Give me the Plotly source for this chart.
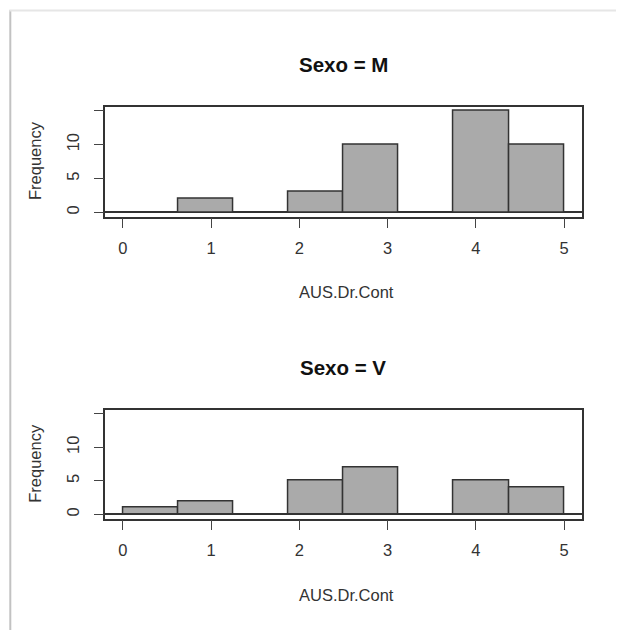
import plotly.graph_objects as go

# ---- data ----
breaks = [0, 0.625, 1.25, 1.875, 2.5, 3.125, 3.75, 4.375, 5]
counts_M = [0, 2, 0, 3, 10, 0, 15, 10]
counts_V = [1, 2, 0, 5, 7, 0, 5, 4]
panel_titles = ["Sexo = M", "Sexo = V"]
x_label = "AUS.Dr.Cont"
y_label = "Frequency"
x_ticks = [0, 1, 2, 3, 4, 5]
y_ticks = [0, 5, 10, 15]
y_ticktext = ["0", "5", "10", ""]

OFF = 8  # page body margin
W, H = 624 - OFF, 630 - OFF
FONT = "Liberation Sans, Arial, sans-serif"
mids = [(a + b) / 2 for a, b in zip(breaks[:-1], breaks[1:])]
widths = [b - a for a, b in zip(breaks[:-1], breaks[1:])]

def py(p):  # window pixel y -> paper y
    return 1 - (p - OFF) / H

def px(p):
    return (p - OFF) / W

fig = go.Figure()
series = [counts_M, counts_V]
xdom = [px(105.3), px(581.7)]
ydoms = [[py(216.5), py(106.7)], [py(518.5), py(409.5)]]
offsets = [0, 302.8]

for i, counts in enumerate(series):
    n = "" if i == 0 else str(i + 1)
    fig.add_trace(go.Bar(
        x=mids, y=counts, width=widths,
        marker=dict(color="#aaaaaa", line=dict(color="#333333", width=1.5)),
        xaxis="x" + n, yaxis="y" + n, showlegend=False, hoverinfo="skip",
    ))
    common = dict(showline=True, mirror=True, linecolor="#333333", linewidth=1.5,
                  ticks="outside", ticklen=10, tickwidth=1.3, tickcolor="#444444",
                  showgrid=False, tickfont=dict(family=FONT, size=16.5, color="#333333"))
    fig.update_layout(**{
        "xaxis" + n: dict(domain=xdom, range=[-0.2, 5.2], tickvals=x_ticks,
                          zeroline=False, anchor="y" + n, ticklabelstandoff=6, **common),
        "yaxis" + n: dict(domain=ydoms[i], range=[-0.6, 15.6], tickvals=y_ticks,
                          ticktext=y_ticktext, tickangle=-90, anchor="x" + n,
                          zeroline=True, zerolinecolor="#333333", zerolinewidth=1.5,
                          ticklabelstandoff=8, **common),
    })
    off = offsets[i]
    fig.add_annotation(text="<b>" + panel_titles[i] + "</b>", x=px(343.5), y=py(65 + off),
                       xref="paper", yref="paper", showarrow=False, xanchor="center",
                       yanchor="middle", font=dict(family=FONT, size=20.5, color="#111111"))
    fig.add_annotation(text=x_label, x=px(346), y=py(292 + off),
                       xref="paper", yref="paper", showarrow=False, xanchor="center",
                       yanchor="middle", font=dict(family=FONT, size=16.5, color="#333333"))
    fig.add_annotation(text=y_label, x=px(35), y=py(161 + off), textangle=-90,
                       xref="paper", yref="paper", showarrow=False, xanchor="center",
                       yanchor="middle", font=dict(family=FONT, size=16.5, color="#333333"))

# screenshot frame
fig.add_shape(type="line", xref="paper", yref="paper", x0=px(10.3), x1=px(10.3), y0=0, y1=py(10),
              line=dict(color="#c2c2c2", width=2))
fig.add_shape(type="line", xref="paper", yref="paper", x0=px(9.3), x1=1, y0=py(10.5), y1=py(10.5),
              line=dict(color="#e6e6e6", width=2))

fig.update_layout(width=W, height=H, margin=dict(l=0, r=0, t=0, b=0),
                  paper_bgcolor="white", plot_bgcolor="white", bargap=0,
                  font=dict(family=FONT))
fig.write_html("out.html")
